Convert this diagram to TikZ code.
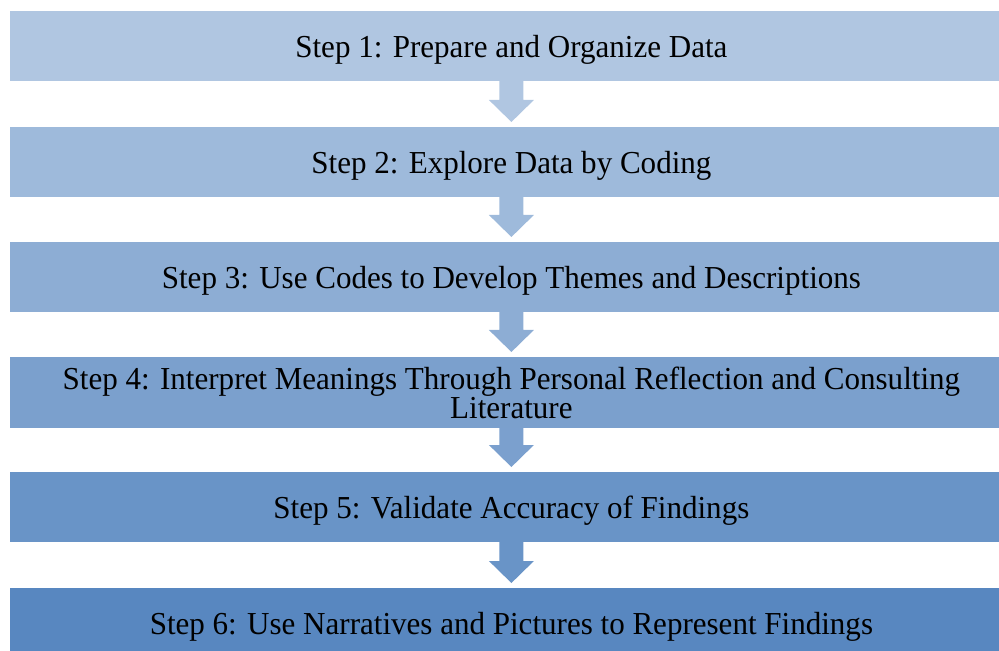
\documentclass[tikz,border=0pt]{standalone}
\usepackage{fontspec}
\setmainfont[FakeStretch=0.97]{Liberation Serif}
\usetikzlibrary{calc}

\definecolor{accent}{HTML}{4F81BD}
\colorlet{s1}{accent!45!white}
\colorlet{s2}{accent!55!white}
\colorlet{s3}{accent!65!white}
\colorlet{s4}{accent!75!white}
\colorlet{s5}{accent!85!white}
\colorlet{s6}{accent!95!white}

% block arrow from the bottom of one box towards the top of the next
\newcommand{\blockarrow}[3]{%
  \coordinate (st) at (#1.south);
  \coordinate (tp) at ([yshift=2.5pt]#2.north);
  \coordinate (hd) at ($(tp)+(0,11pt)$);
  \fill[#3] ($(st)+(-6pt,0.5pt)$) -- ($(hd)+(-6pt,0)$) -- ($(hd)+(-11.25pt,0)$)
    -- (tp) -- ($(hd)+(11.25pt,0)$) -- ($(hd)+(6pt,0)$) -- ($(st)+(6pt,0.5pt)$) -- cycle;
}

\begin{document}
\begin{tikzpicture}[x=0.5pt,y=-0.5pt,
  stepbox/.style={rectangle, anchor=north west, inner sep=0pt,
    minimum width=501pt, minimum height=35pt, align=center,
    text depth=0pt, font=\fontsize{16}{14.5}\selectfont}]
\useasboundingbox (0,0) rectangle (999,651);

\node[stepbox, fill=s1] (b1) at (10,11)  {Step 1: Prepare and Organize Data};
\node[stepbox, fill=s2] (b2) at (10,127) {Step 2: Explore Data by Coding};
\node[stepbox, fill=s3] (b3) at (10,242) {Step 3: Use Codes to Develop Themes and Descriptions};
\node[stepbox, fill=s4, minimum height=35.5pt] (b4) at (10,357)
  {Step 4: Interpret Meanings Through Personal Reflection and Consulting\\Literature};
\node[stepbox, fill=s5] (b5) at (10,472) {Step 5: Validate Accuracy of Findings};
\node[stepbox, fill=s6, minimum height=35pt] (b6) at (10,588) {Step 6: Use Narratives and Pictures to Represent Findings};

\blockarrow{b1}{b2}{s1}
\blockarrow{b2}{b3}{s2}
\blockarrow{b3}{b4}{s3}
\blockarrow{b4}{b5}{s4}
\blockarrow{b5}{b6}{s5}
\end{tikzpicture}
\end{document}
